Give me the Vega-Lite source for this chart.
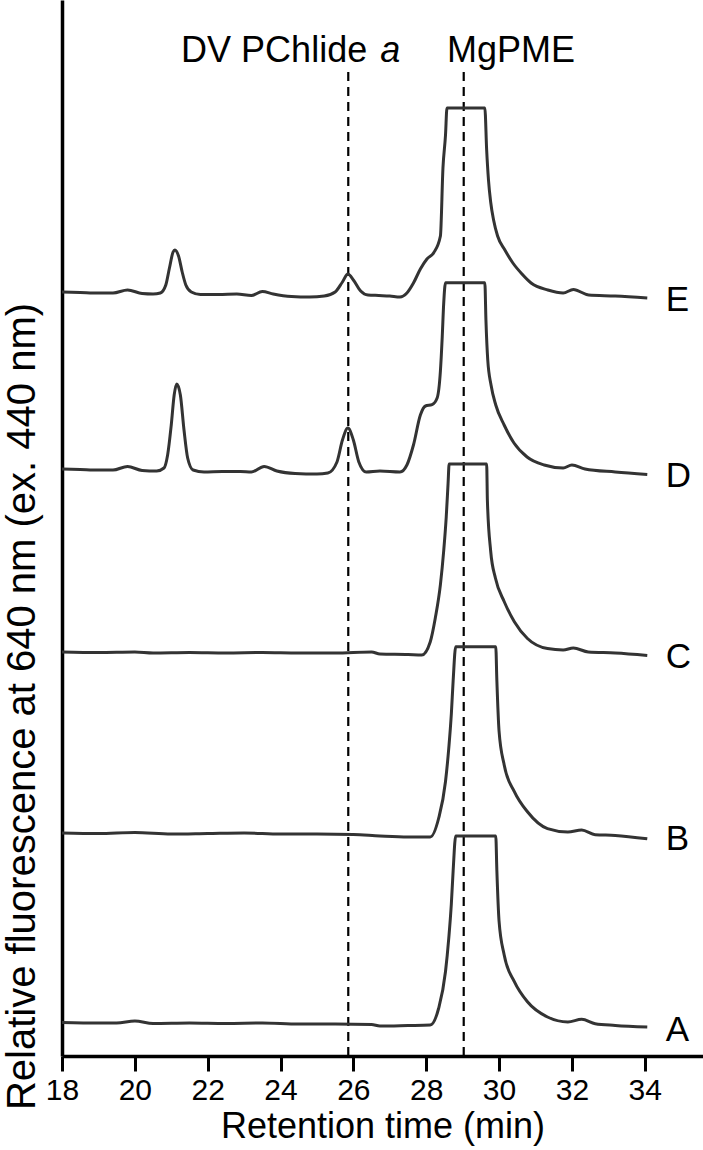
{
  "$schema": "https://vega.github.io/schema/vega-lite/v6.json",
  "width": 641,
  "height": 1056,
  "autosize": {"type": "none"},
  "padding": {"left": 62, "top": 0, "right": 0, "bottom": 94},
  "config": {"view": {"stroke": null}, "font": "Liberation Sans"},
  "datasets": {
    "traces": [
      {"s":"E","t":18.0,"v":764},{"s":"E","t":18.5,"v":763.5},{"s":"E","t":19.0,"v":763},{"s":"E","t":19.4,"v":763},{"s":"E","t":19.8,"v":766},{"s":"E","t":20.2,"v":762.5},{"s":"E","t":20.5,"v":762},{"s":"E","t":20.7,"v":763},{"s":"E","t":20.85,"v":771},{"s":"E","t":20.95,"v":788},{"s":"E","t":21.05,"v":804},{"s":"E","t":21.1,"v":806},{"s":"E","t":21.2,"v":800},{"s":"E","t":21.3,"v":784},{"s":"E","t":21.4,"v":771},{"s":"E","t":21.55,"v":764},{"s":"E","t":21.8,"v":761.5},{"s":"E","t":22.3,"v":761.5},{"s":"E","t":22.8,"v":762},{"s":"E","t":23.2,"v":760.5},{"s":"E","t":23.5,"v":764.5},{"s":"E","t":23.8,"v":762},{"s":"E","t":24.3,"v":759.5},{"s":"E","t":24.8,"v":759},{"s":"E","t":25.2,"v":760},{"s":"E","t":25.5,"v":764},{"s":"E","t":25.7,"v":774},{"s":"E","t":25.85,"v":782},{"s":"E","t":26.0,"v":776},{"s":"E","t":26.2,"v":765},{"s":"E","t":26.4,"v":761},{"s":"E","t":26.7,"v":760.5},{"s":"E","t":27.0,"v":760},{"s":"E","t":27.28,"v":759},{"s":"E","t":27.47,"v":763},{"s":"E","t":27.65,"v":773},{"s":"E","t":27.84,"v":787},{"s":"E","t":28.02,"v":797},{"s":"E","t":28.21,"v":803.5},{"s":"E","t":28.39,"v":820},{"s":"E","t":28.46,"v":888},{"s":"E","t":28.53,"v":921},{"s":"E","t":28.57,"v":948},{"s":"E","t":29.61,"v":948},{"s":"E","t":29.66,"v":906},{"s":"E","t":29.71,"v":876},{"s":"E","t":29.77,"v":854},{"s":"E","t":29.85,"v":836},{"s":"E","t":29.96,"v":820},{"s":"E","t":30.16,"v":806},{"s":"E","t":30.38,"v":793},{"s":"E","t":30.63,"v":782},{"s":"E","t":30.88,"v":773},{"s":"E","t":31.34,"v":766},{"s":"E","t":31.76,"v":763},{"s":"E","t":32.04,"v":766.5},{"s":"E","t":32.46,"v":761},{"s":"E","t":33.19,"v":760},{"s":"E","t":34.07,"v":758},
      {"s":"D","t":18.0,"v":587},{"s":"D","t":18.5,"v":586.5},{"s":"D","t":19.0,"v":586},{"s":"D","t":19.4,"v":586},{"s":"D","t":19.8,"v":589.5},{"s":"D","t":20.2,"v":585.5},{"s":"D","t":20.6,"v":585},{"s":"D","t":20.8,"v":588},{"s":"D","t":20.9,"v":601},{"s":"D","t":21.0,"v":631},{"s":"D","t":21.08,"v":661},{"s":"D","t":21.15,"v":672},{"s":"D","t":21.25,"v":661},{"s":"D","t":21.35,"v":626},{"s":"D","t":21.45,"v":598},{"s":"D","t":21.6,"v":586},{"s":"D","t":21.9,"v":584},{"s":"D","t":22.4,"v":584.5},{"s":"D","t":22.9,"v":584.5},{"s":"D","t":23.2,"v":584},{"s":"D","t":23.55,"v":589.5},{"s":"D","t":23.9,"v":585},{"s":"D","t":24.4,"v":582.5},{"s":"D","t":25.0,"v":582},{"s":"D","t":25.3,"v":583},{"s":"D","t":25.55,"v":594},{"s":"D","t":25.7,"v":616},{"s":"D","t":25.85,"v":628},{"s":"D","t":26.0,"v":616},{"s":"D","t":26.15,"v":594},{"s":"D","t":26.35,"v":584},{"s":"D","t":26.73,"v":585},{"s":"D","t":27.28,"v":584},{"s":"D","t":27.47,"v":591},{"s":"D","t":27.65,"v":611},{"s":"D","t":27.84,"v":641},{"s":"D","t":27.98,"v":650},{"s":"D","t":28.16,"v":651.3},{"s":"D","t":28.3,"v":658},{"s":"D","t":28.39,"v":685},{"s":"D","t":28.44,"v":719},{"s":"D","t":28.48,"v":752.3},{"s":"D","t":28.53,"v":773.2},{"s":"D","t":29.61,"v":773.2},{"s":"D","t":29.64,"v":736},{"s":"D","t":29.69,"v":696},{"s":"D","t":29.78,"v":671},{"s":"D","t":29.91,"v":651},{"s":"D","t":30.14,"v":631},{"s":"D","t":30.41,"v":613},{"s":"D","t":30.77,"v":599},{"s":"D","t":31.24,"v":591},{"s":"D","t":31.76,"v":588},{"s":"D","t":32.0,"v":591},{"s":"D","t":32.36,"v":587},{"s":"D","t":33.19,"v":584},{"s":"D","t":34.07,"v":581.6},
      {"s":"C","t":18.0,"v":404},{"s":"C","t":19.0,"v":403.5},{"s":"C","t":20.0,"v":404},{"s":"C","t":20.5,"v":403},{"s":"C","t":21.5,"v":403.5},{"s":"C","t":22.5,"v":403},{"s":"C","t":23.5,"v":403.5},{"s":"C","t":24.5,"v":403},{"s":"C","t":25.5,"v":403},{"s":"C","t":26.5,"v":404},{"s":"C","t":26.73,"v":402},{"s":"C","t":27.5,"v":401.5},{"s":"C","t":27.88,"v":401},{"s":"C","t":28.11,"v":414},{"s":"C","t":28.25,"v":438},{"s":"C","t":28.39,"v":471.3},{"s":"C","t":28.48,"v":505},{"s":"C","t":28.55,"v":539},{"s":"C","t":28.6,"v":572.3},{"s":"C","t":28.63,"v":592},{"s":"C","t":29.66,"v":592},{"s":"C","t":29.68,"v":555.5},{"s":"C","t":29.77,"v":505},{"s":"C","t":29.9,"v":478},{"s":"C","t":30.14,"v":454.5},{"s":"C","t":30.42,"v":434.3},{"s":"C","t":30.78,"v":417.5},{"s":"C","t":31.33,"v":407.4},{"s":"C","t":31.76,"v":406},{"s":"C","t":32.04,"v":408},{"s":"C","t":32.45,"v":404},{"s":"C","t":33.19,"v":403},{"s":"C","t":34.07,"v":400.6},
      {"s":"B","t":18.0,"v":223},{"s":"B","t":19.0,"v":222.5},{"s":"B","t":20.0,"v":223.5},{"s":"B","t":21.0,"v":222},{"s":"B","t":22.0,"v":222.5},{"s":"B","t":23.0,"v":223},{"s":"B","t":24.0,"v":222},{"s":"B","t":25.0,"v":222},{"s":"B","t":26.0,"v":221.5},{"s":"B","t":26.73,"v":220},{"s":"B","t":27.5,"v":219},{"s":"B","t":28.11,"v":219},{"s":"B","t":28.34,"v":237.5},{"s":"B","t":28.53,"v":274.5},{"s":"B","t":28.62,"v":308},{"s":"B","t":28.69,"v":342},{"s":"B","t":28.74,"v":375.5},{"s":"B","t":28.81,"v":409.2},{"s":"B","t":29.91,"v":409.2},{"s":"B","t":29.94,"v":375.5},{"s":"B","t":30.0,"v":325},{"s":"B","t":30.14,"v":291.3},{"s":"B","t":30.42,"v":264.4},{"s":"B","t":30.78,"v":244.2},{"s":"B","t":31.33,"v":227.4},{"s":"B","t":31.89,"v":224},{"s":"B","t":32.27,"v":226},{"s":"B","t":32.64,"v":221.3},{"s":"B","t":33.19,"v":220.6},{"s":"B","t":34.07,"v":217.2},
      {"s":"A","t":18.0,"v":33.5},{"s":"A","t":19.0,"v":33},{"s":"A","t":19.5,"v":33},{"s":"A","t":20.0,"v":35},{"s":"A","t":20.5,"v":32.5},{"s":"A","t":21.5,"v":33},{"s":"A","t":22.5,"v":32.5},{"s":"A","t":23.5,"v":33},{"s":"A","t":24.5,"v":32},{"s":"A","t":25.5,"v":32},{"s":"A","t":26.5,"v":31.5},{"s":"A","t":26.73,"v":30},{"s":"A","t":27.5,"v":30.5},{"s":"A","t":28.11,"v":31},{"s":"A","t":28.34,"v":47.5},{"s":"A","t":28.53,"v":84.5},{"s":"A","t":28.62,"v":118},{"s":"A","t":28.69,"v":152},{"s":"A","t":28.74,"v":185.5},{"s":"A","t":28.81,"v":220},{"s":"A","t":29.91,"v":220},{"s":"A","t":29.94,"v":185.5},{"s":"A","t":30.0,"v":135},{"s":"A","t":30.14,"v":101.3},{"s":"A","t":30.42,"v":74.4},{"s":"A","t":30.78,"v":54.2},{"s":"A","t":31.33,"v":39},{"s":"A","t":31.89,"v":34},{"s":"A","t":32.27,"v":36.7},{"s":"A","t":32.64,"v":32.3},{"s":"A","t":33.19,"v":30.6},{"s":"A","t":34.07,"v":29}
    ],
    "rules": [
      {"t": 25.86, "v": 984, "v2": 0},
      {"t": 29.03, "v": 984, "v2": 0}
    ],
    "sampleLabels": [
      {"t": 34.58, "v": 745.5, "txt": "E"},
      {"t": 34.58, "v": 569, "txt": "D"},
      {"t": 34.58, "v": 388.5, "txt": "C"},
      {"t": 34.58, "v": 206.5, "txt": "B"},
      {"t": 34.58, "v": 15.5, "txt": "A"}
    ],
    "peakLabels": [
      {"t": 21.27, "v": 994, "txt": "DV PChlide"},
      {"t": 28.57, "v": 994, "txt": "MgPME"}
    ],
    "italicLabels": [
      {"t": 26.74, "v": 994, "txt": "a"}
    ]
  },
  "encoding": {
    "x": {
      "field": "t",
      "type": "quantitative",
      "scale": {"domain": [18, 35.6], "nice": false, "zero": false},
      "axis": {
        "values": [18, 20, 22, 24, 26, 28, 30, 32, 34],
        "grid": false,
        "tickSize": 15,
        "tickWidth": 3,
        "tickColor": "#000000",
        "domainColor": "#000000",
        "domainWidth": 3.5,
        "labelFontSize": 30,
        "labelColor": "#000000",
        "labelPadding": 4,
        "labelFlush": false,
        "title": "Retention time (min)",
        "titleFontSize": 36,
        "titleFontWeight": "normal",
        "titleColor": "#000000",
        "titlePadding": 4
      }
    },
    "y": {
      "field": "v",
      "type": "quantitative",
      "scale": {"domain": [0, 1056], "nice": false, "zero": false},
      "axis": {
        "grid": false,
        "ticks": false,
        "labels": false,
        "domainColor": "#000000",
        "domainWidth": 3.5,
        "title": "Relative fluorescence at 640 nm (ex. 440 nm)",
        "titleFontSize": 40,
        "titleFontWeight": "normal",
        "titleColor": "#000000",
        "titleAngle": -90,
        "titleAlign": "center",
        "titleBaseline": "alphabetic",
        "titleX": -28,
        "titleY": 706
      }
    }
  },
  "layer": [
    {
      "data": {"name": "rules"},
      "mark": {"type": "rule", "strokeDash": [9, 6], "strokeWidth": 2.2, "color": "#000000"},
      "encoding": {"y2": {"field": "v2"}}
    },
    {
      "data": {"name": "traces"},
      "mark": {"type": "line", "interpolate": "monotone", "strokeWidth": 3, "color": "#333333"},
      "encoding": {"detail": {"field": "s", "type": "nominal"}, "order": {"field": "t", "type": "quantitative"}}
    },
    {
      "data": {"name": "sampleLabels"},
      "mark": {"type": "text", "align": "left", "baseline": "alphabetic", "fontSize": 35, "color": "#000000"},
      "encoding": {"text": {"field": "txt"}}
    },
    {
      "data": {"name": "peakLabels"},
      "mark": {"type": "text", "align": "left", "baseline": "alphabetic", "fontSize": 36, "color": "#000000"},
      "encoding": {"text": {"field": "txt"}}
    },
    {
      "data": {"name": "italicLabels"},
      "mark": {"type": "text", "align": "left", "baseline": "alphabetic", "fontSize": 36, "fontStyle": "italic", "color": "#000000"},
      "encoding": {"text": {"field": "txt"}}
    }
  ]
}
